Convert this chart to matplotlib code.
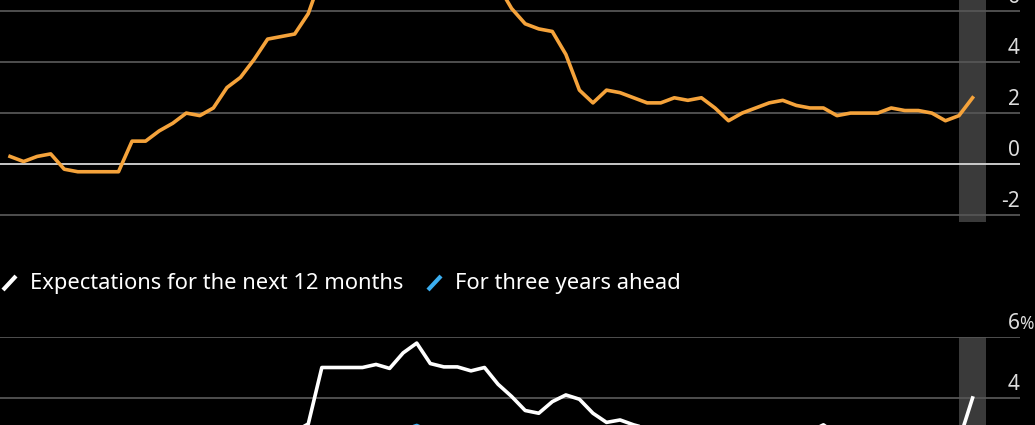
import matplotlib.pyplot as plt
import matplotlib.transforms as mtransforms
from matplotlib.lines import Line2D
import numpy as np

plt.rcParams['font.family'] = ['Noto Sans', 'DejaVu Sans']

# monthly, Apr 2020 .. Mar 2026
cpi = [0.3, 0.1, 0.3, 0.4, -0.2, -0.3, -0.3, -0.3, -0.3,
       0.9, 0.9, 1.3, 1.6, 2.0, 1.9, 2.2, 3.0, 3.4, 4.1, 4.9, 5.0,
       5.1, 5.9, 7.4, 7.4, 8.1, 8.6, 8.9, 9.1, 9.9, 10.6, 10.1, 9.2,
       8.6, 8.5, 6.9, 7.0, 6.1, 5.5, 5.3, 5.2, 4.3, 2.9, 2.4, 2.9,
       2.8, 2.6, 2.4, 2.4, 2.6, 2.5, 2.6, 2.2, 1.7, 2.0, 2.2, 2.4,
       2.5, 2.3, 2.2, 2.2, 1.9, 2.0, 2.0, 2.0, 2.2, 2.1, 2.1, 2.0,
       1.7, 1.9, 2.6]

exp_12m = [1.9, 1.6, 1.4, 1.4, 1.3, 1.3, 1.3, 1.2, 1.3,
           1.4, 1.5, 1.5, 1.6, 1.7, 1.8, 2.0, 2.1, 2.3, 2.5, 2.7, 2.8,
           2.9, 3.15, 5.0, 5.0, 5.0, 5.0, 5.1, 4.97, 5.48, 5.8, 5.13, 5.02,
           5.02, 4.89, 5.0, 4.45, 4.05, 3.59, 3.5, 3.88, 4.1, 3.96, 3.5, 3.2,
           3.28, 3.12, 3.0, 2.9, 2.8, 2.8, 2.7, 2.7, 2.8, 2.7, 2.6, 2.7,
           2.8, 2.8, 2.9, 3.12, 2.8, 2.7, 2.7, 2.7, 2.8, 2.8, 2.7, 2.7,
           2.6, 2.6, 4.0]

exp_3y = [1.4, 1.3, 1.3, 1.2, 1.2, 1.2, 1.2, 1.2, 1.2,
          1.3, 1.3, 1.4, 1.4, 1.5, 1.6, 1.7, 1.8, 1.9, 2.0, 2.1, 2.2,
          2.2, 2.3, 2.8, 2.8, 2.8, 2.8, 2.9, 2.8, 2.95, 3.1, 2.9, 2.8,
          2.7, 2.6, 2.5, 2.5, 2.5, 2.3, 2.4, 2.5, 2.5, 2.5, 2.5, 2.4,
          2.5, 2.5, 2.5, 2.4, 2.4, 2.4, 2.3, 2.3, 2.3, 2.2, 2.1, 2.3,
          2.3, 2.3, 2.4, 2.5, 2.4, 2.3, 2.3, 2.3, 2.3, 2.3, 2.3, 2.2,
          2.2, 2.2, 2.6]

top_ticks = [-2, 0, 2, 4, 6]
bottom_ticks = [4, 6]
shade_start, shade_end = 70, 72

x = np.arange(len(cpi))

W, H = 1035, 425
fig = plt.figure(figsize=(W / 100, H / 100), dpi=100)
fig.patch.set_facecolor('black')

# axes placed in pixel terms; the figure is a crop so parts sit outside it
ax1 = fig.add_axes([0, (H - 222) / H, 1020 / W, 364 / H])
ax2 = fig.add_axes([0, (H - 520) / H, 1020 / W, 183 / H])

grid_col = '#555555'
text_col = '#dcdcdc'


def style_axis(ax, ticks, lo, hi, pct):
    ax.set_facecolor('black')
    ax.set_xlim(-0.74, 74.5)
    ax.set_ylim(lo, hi)
    for s in ax.spines.values():
        s.set_visible(False)
    ax.set_xticks([])
    ax.set_yticks([])
    ax.axvspan(shade_start, shade_end, color='#3a3a3a', zorder=0, lw=0)
    trans = mtransforms.blended_transform_factory(ax.transAxes, ax.transData)
    for t in ticks:
        col = '#d8d8d8' if t == 0 else grid_col
        ax.axhline(t, color=col, lw=1.3, zorder=1)
        ax.annotate(str(t), xy=(1.0, t), xycoords=trans, xytext=(0, 6),
                    textcoords='offset points', ha='right', va='baseline',
                    color=text_col, fontsize=15, annotation_clip=False)
    if pct:
        # percent sign hangs off the top label
        ax.annotate('%', xy=(1.0, ticks[-1]), xycoords=trans, xytext=(-0.5, 6),
                    textcoords='offset points', ha='left', va='baseline',
                    color=text_col, fontsize=12.5, annotation_clip=False)


style_axis(ax1, top_ticks, -2.27, 12, False)
style_axis(ax2, bottom_ticks, 0, 6, True)

ax1.plot(x, cpi, color='#F5A33B', lw=2.6, zorder=3)
ax2.plot(x, exp_3y, color='#3BAEF0', lw=2.6, zorder=3)
ax2.plot(x, exp_12m, color='white', lw=2.6, zorder=4)

# legend with slanted swatches
def px(xp, yp):
    return (xp / W, 1 - yp / H)


for (x0, y0, x1, y1), col in [((3, 290, 16, 276), 'white'),
                              ((428, 290, 441, 276), '#3BAEF0')]:
    a = px(x0, y0)
    b = px(x1, y1)
    fig.add_artist(Line2D([a[0], b[0]], [a[1], b[1]], color=col, lw=3,
                          solid_capstyle='butt', transform=fig.transFigure))

fig.text(30 / W, 1 - 289 / H, 'Expectations for the next 12 months',
         color='white', fontsize=15.8, va='baseline', ha='left')
fig.text(455 / W, 1 - 289 / H, 'For three years ahead',
         color='white', fontsize=15.8, va='baseline', ha='left')

fig.savefig('out.png', dpi=100, facecolor='black')
